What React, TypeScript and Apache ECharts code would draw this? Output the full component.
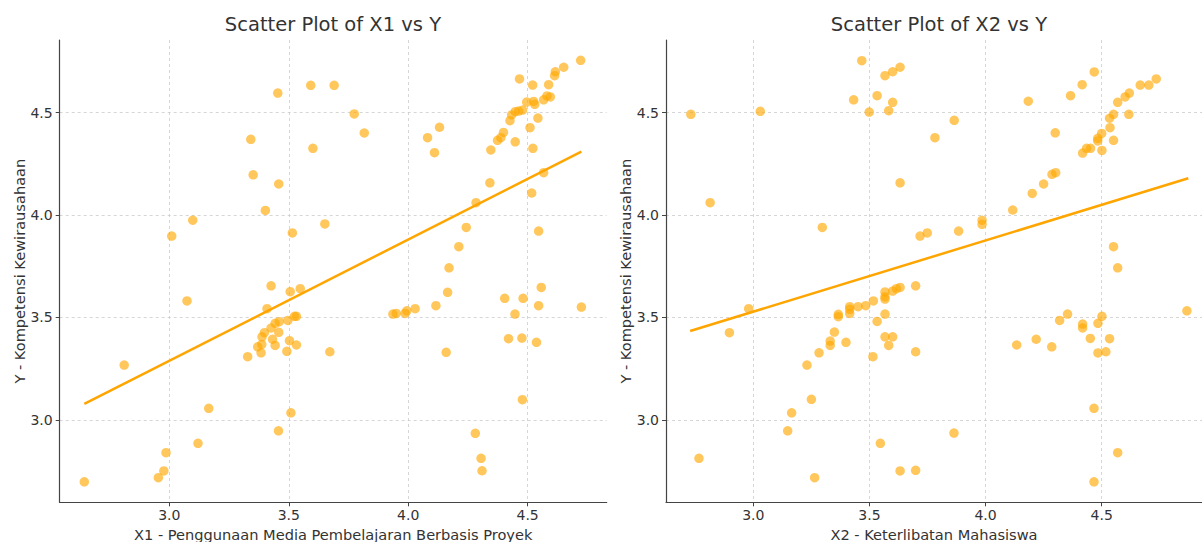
import React, { useEffect, useRef } from "react";
import * as echarts from "echarts";

// X1 (Penggunaan Media Pembelajaran Berbasis Proyek) vs Y
const x1 = [
  3.454, 3.592, 3.690, 3.341, 3.601, 3.351, 3.458, 3.402, 3.098, 3.010,
  3.515, 3.651, 3.774, 3.816, 4.466, 4.521, 4.588, 4.616, 4.613, 4.651,
  4.722, 4.496, 4.525, 4.530, 4.567, 4.581, 4.595, 4.433, 4.448, 4.462,
  4.479, 4.426, 4.543, 4.510, 4.399, 4.388, 4.374, 4.448, 4.522, 4.346,
  4.081, 4.131, 4.110, 4.342, 4.567, 4.517, 4.284, 4.243, 4.212, 4.171,
  4.546, 3.426, 3.506, 3.548, 3.409, 3.074, 2.811, 2.644, 2.954, 2.977,
  2.986, 3.120, 3.165, 3.509, 3.457, 3.496, 3.524, 3.532, 3.460, 3.443,
  3.426, 3.398, 3.388, 3.458, 3.432, 3.387, 3.370, 3.384, 3.443, 3.503,
  3.532, 3.492, 3.328, 3.672, 4.165, 4.116, 4.029, 3.994, 3.987, 3.950,
  3.936, 4.159, 4.404, 4.481, 4.557, 4.546, 4.725, 4.447, 4.420, 4.476,
  4.537, 4.478, 4.281, 4.305, 4.309,
];
const yForX1 = [
  4.595, 4.633, 4.633, 4.369, 4.325, 4.196, 4.151, 4.022, 3.974, 3.897,
  3.912, 3.956, 4.493, 4.400, 4.664, 4.634, 4.636, 4.699, 4.680, 4.721,
  4.755, 4.551, 4.554, 4.540, 4.562, 4.581, 4.576, 4.488, 4.504, 4.507,
  4.512, 4.460, 4.473, 4.426, 4.403, 4.377, 4.364, 4.357, 4.325, 4.317,
  4.377, 4.428, 4.304, 4.157, 4.206, 4.107, 4.060, 3.939, 3.845, 3.742,
  3.921, 3.654, 3.625, 3.640, 3.542, 3.580, 3.267, 2.697, 2.717, 2.750,
  2.839, 2.885, 3.056, 3.034, 2.946, 3.485, 3.505, 3.505, 3.479, 3.471,
  3.448, 3.425, 3.405, 3.427, 3.393, 3.368, 3.356, 3.327, 3.363, 3.386,
  3.365, 3.334, 3.308, 3.332, 3.622, 3.557, 3.542, 3.532, 3.519, 3.519,
  3.516, 3.329, 3.593, 3.593, 3.646, 3.557, 3.550, 3.516, 3.396, 3.399,
  3.378, 3.098, 2.934, 2.812, 2.751,
];
const fitX1 = [
  [2.644, 3.077],
  [4.725, 4.309],
];

// X2 (Keterlibatan Mahasiswa) vs Y
const x2 = [
  2.731, 3.030, 2.814, 3.297, 3.467, 3.567, 3.600, 3.632, 3.432, 3.533,
  3.600, 3.499, 3.583, 3.782, 3.632, 3.718, 3.749, 3.865, 3.884, 3.985,
  3.985, 4.117, 4.184, 4.300, 4.201, 4.250, 4.286, 4.302, 4.366, 4.416,
  4.468, 4.418, 4.435, 4.452, 4.483, 4.483, 4.500, 4.501, 4.536, 4.534,
  4.551, 4.551, 4.569, 4.601, 4.619, 4.617, 4.666, 4.703, 4.735, 4.551,
  4.569, 2.980, 2.897, 2.766, 3.148, 3.165, 3.250, 3.264, 3.231, 3.283,
  3.331, 3.331, 3.349, 3.399, 3.366, 3.366, 3.415, 3.415, 3.415, 3.451,
  3.484, 3.517, 3.515, 3.533, 3.567, 3.567, 3.567, 3.567, 3.600, 3.616,
  3.632, 3.699, 3.567, 3.600, 3.583, 3.699, 3.547, 3.632, 3.699, 4.867,
  4.353, 4.319, 4.418, 4.418, 4.484, 4.501, 4.451, 4.534, 4.218, 4.134,
  4.285, 4.518, 4.484, 4.467, 3.864, 4.569, 4.467,
];
const yForX2 = [
  4.491, 4.506, 4.060, 3.939, 4.753, 4.680, 4.699, 4.721, 4.562, 4.582,
  4.550, 4.502, 4.509, 4.377, 4.157, 3.897, 3.912, 4.462, 3.921, 3.974,
  3.954, 4.024, 4.555, 4.401, 4.105, 4.151, 4.198, 4.206, 4.582, 4.636,
  4.698, 4.302, 4.325, 4.325, 4.361, 4.374, 4.398, 4.315, 4.426, 4.472,
  4.491, 4.364, 4.550, 4.576, 4.595, 4.491, 4.634, 4.634, 4.664, 3.845,
  3.742, 3.542, 3.425, 2.812, 2.946, 3.034, 3.100, 2.717, 3.267, 3.327,
  3.363, 3.384, 3.428, 3.378, 3.503, 3.515, 3.519, 3.552, 3.539, 3.552,
  3.557, 3.580, 3.308, 3.480, 3.516, 3.589, 3.601, 3.624, 3.628, 3.640,
  3.646, 3.654, 3.405, 3.405, 3.363, 3.332, 2.885, 2.750, 2.753, 3.532,
  3.516, 3.485, 3.467, 3.448, 3.471, 3.505, 3.397, 3.396, 3.393, 3.365,
  3.356, 3.332, 3.326, 3.056, 2.935, 2.839, 2.697,
];
const fitX2 = [
  [2.728, 3.433],
  [4.873, 4.179],
];

const tickValues = [3.0, 3.5, 4.0, 4.5];

const FONT = "DejaVu Sans";
const TEXT = "#333333";
const AXIS = "#444444";

function zip(a: number[], b: number[]) {
  return a.map((v, i) => [v, b[i]]);
}

function makeXAxis(gridIndex: number, min: number, max: number, name: string) {
  return {
    type: "value",
    gridIndex,
    min,
    max,
    name,
    nameLocation: "middle",
    nameGap: 24,
    nameTextStyle: { fontFamily: FONT, fontSize: 14.6, color: TEXT },
    axisLine: { show: true, lineStyle: { color: AXIS, width: 1.2 } },
    axisTick: {
      show: true,
      length: 4,
      customValues: tickValues,
      lineStyle: { color: AXIS, width: 1 },
    },
    axisLabel: {
      customValues: tickValues,
      fontFamily: FONT,
      fontSize: 14,
      color: TEXT,
      margin: 6,
      formatter: (v: number) => v.toFixed(1),
    },
    splitLine: {
      show: true,
      lineStyle: { color: "#cccccc", width: 0.8, type: [3, 3] },
    },
  };
}

function makeYAxis(gridIndex: number, name: string) {
  return {
    type: "value",
    gridIndex,
    min: 2.597,
    max: 4.854,
    name,
    nameLocation: "middle",
    nameGap: 33,
    nameRotate: 90,
    nameTextStyle: { fontFamily: FONT, fontSize: 14.6, color: TEXT },
    axisLine: { show: true, lineStyle: { color: AXIS, width: 1.2 } },
    axisTick: {
      show: true,
      length: 4,
      customValues: tickValues,
      lineStyle: { color: AXIS, width: 1 },
    },
    axisLabel: {
      customValues: tickValues,
      fontFamily: FONT,
      fontSize: 14,
      color: TEXT,
      margin: 7,
      formatter: (v: number) => v.toFixed(1),
    },
    splitLine: {
      show: true,
      lineStyle: { color: "#cccccc", width: 0.8, type: [3, 3] },
    },
  };
}

export default function App() {
  const ref = useRef<HTMLDivElement>(null);

  useEffect(() => {
    document.body.style.margin = "0";
    if (!ref.current) return;
    const chart = echarts.init(ref.current, undefined, { renderer: "svg" });
    const scatterStyle = {
      color: "rgba(255,168,0,0.8)",
    };
    chart.setOption({
      animation: false,
      backgroundColor: "#ffffff",
      title: [
        {
          text: "Scatter Plot of X1 vs Y",
          left: 333,
          top: 14,
          padding: 0,
          textAlign: "center",
          textStyle: { fontFamily: FONT, fontSize: 19.5, fontWeight: "normal", color: TEXT },
        },
        {
          text: "Scatter Plot of X2 vs Y",
          left: 939,
          top: 14,
          padding: 0,
          textAlign: "center",
          textStyle: { fontFamily: FONT, fontSize: 19.5, fontWeight: "normal", color: TEXT },
        },
      ],
      grid: [
        { left: 59.7, right: 595.3, top: 40, bottom: 39.7, containLabel: false, outerBoundsMode: "none" },
        { left: 666, right: 0, top: 40, bottom: 39.7, containLabel: false, outerBoundsMode: "none" },
      ],
      xAxis: [
        makeXAxis(0, 2.541, 4.831, "X1 - Penggunaan Media Pembelajaran Berbasis Proyek"),
        makeXAxis(1, 2.624, 4.932, "X2 - Keterlibatan Mahasiswa"),
      ],
      yAxis: [
        makeYAxis(0, "Y - Kompetensi Kewirausahaan"),
        makeYAxis(1, "Y - Kompetensi Kewirausahaan"),
      ],
      series: [
        {
          type: "scatter",
          xAxisIndex: 0,
          yAxisIndex: 0,
          data: zip(x1, yForX1),
          symbolSize: 9.5,
          itemStyle: scatterStyle,
          z: 2,
        },
        {
          type: "line",
          xAxisIndex: 0,
          yAxisIndex: 0,
          data: fitX1,
          showSymbol: false,
          symbol: "none",
          lineStyle: { color: "#FFA500", width: 2.5 },
          z: 3,
        },
        {
          type: "scatter",
          xAxisIndex: 1,
          yAxisIndex: 1,
          data: zip(x2, yForX2),
          symbolSize: 9.5,
          itemStyle: scatterStyle,
          z: 2,
        },
        {
          type: "line",
          xAxisIndex: 1,
          yAxisIndex: 1,
          data: fitX2,
          showSymbol: false,
          symbol: "none",
          lineStyle: { color: "#FFA500", width: 2.5 },
          z: 3,
        },
      ],
    });
    return () => chart.dispose();
  }, []);

  return (
    <div
      ref={ref}
      style={{ width: 1202, height: 542, position: "absolute", left: 0, top: 0 }}
    />
  );
}
